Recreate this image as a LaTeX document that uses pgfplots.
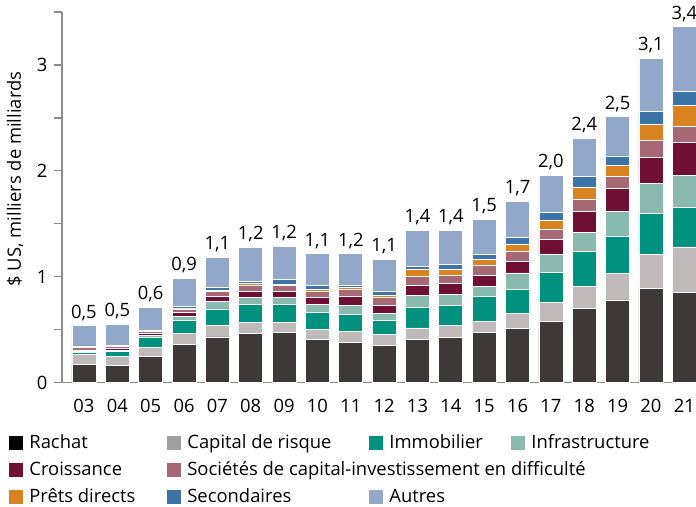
\documentclass[border=0pt]{standalone}
\usepackage{pgfplots}
\usepackage{pgfplotstable}
\pgfplotsset{compat=1.18}
\usepackage{fontspec}
\setmainfont{Open Sans}
\definecolor{cR}{HTML}{3E3938}
\definecolor{cRleg}{HTML}{000000}
\definecolor{cVC}{HTML}{BFBAB9}
\definecolor{cVCleg}{HTML}{A0A0A0}
\definecolor{cIm}{HTML}{00917F}
\definecolor{cIn}{HTML}{8AB9B0}
\definecolor{cCr}{HTML}{6E0F33}
\definecolor{cDi}{HTML}{A66874}
\definecolor{cPd}{HTML}{D98220}
\definecolor{cSe}{HTML}{3D74A8}
\definecolor{cAu}{HTML}{91A8CB}
\definecolor{axgray}{HTML}{8C8C8C}
\pgfplotstableread{
x R VC Im In Cr Di Pd Se Au tot lab
0 0.17 0.095 0.02 0.01 0.01 0.03 0.0 0.01 0.19 0.535 0,5
1 0.165 0.08 0.05 0.01 0.015 0.02 0.0 0.01 0.20 0.55 0,5
2 0.245 0.09 0.09 0.02 0.02 0.015 0.0 0.01 0.22 0.71 0,6
3 0.36 0.105 0.12 0.04 0.04 0.03 0.005 0.02 0.265 0.985 0,9
4 0.43 0.11 0.155 0.07 0.045 0.05 0.01 0.025 0.29 1.185 1,1
5 0.46 0.11 0.17 0.065 0.055 0.055 0.02 0.02 0.32 1.275 1,2
6 0.47 0.10 0.17 0.065 0.055 0.055 0.015 0.04 0.32 1.29 1,2
7 0.41 0.09 0.16 0.075 0.07 0.055 0.02 0.035 0.30 1.215 1,1
8 0.38 0.10 0.16 0.09 0.08 0.065 0.02 0.02 0.30 1.215 1,2
9 0.35 0.10 0.14 0.06 0.08 0.075 0.02 0.04 0.295 1.16 1,1
10 0.41 0.105 0.195 0.11 0.10 0.085 0.06 0.035 0.335 1.435 1,4
11 0.425 0.11 0.195 0.105 0.10 0.08 0.05 0.05 0.32 1.435 1,4
12 0.47 0.11 0.23 0.10 0.10 0.095 0.06 0.045 0.33 1.54 1,5
13 0.51 0.145 0.22 0.16 0.105 0.10 0.06 0.07 0.34 1.71 1,7
14 0.58 0.18 0.28 0.17 0.145 0.095 0.08 0.075 0.35 1.955 2,0
15 0.70 0.21 0.33 0.18 0.20 0.11 0.11 0.11 0.36 2.31 2,4
16 0.78 0.25 0.35 0.24 0.21 0.12 0.10 0.09 0.37 2.51 2,5
17 0.89 0.32 0.39 0.28 0.25 0.16 0.15 0.12 0.50 3.06 3,1
18 0.85 0.43 0.37 0.31 0.31 0.15 0.20 0.13 0.61 3.36 3,4
}\datatable
\begin{document}
\fontsize{9.2}{11}\selectfont
\begin{tikzpicture}
\begin{axis}[
  scale only axis,
  width=317pt, height=185.25pt,
  xmin=-0.659, xmax=18.35,
  ymin=0, ymax=3.5,
  ybar stacked,
  bar width=12pt,
  axis lines=left,
  axis line style={-, draw=axgray, line width=0.8pt},
  xtick=data,
  xticklabels={03,04,05,06,07,08,09,10,11,12,13,14,15,16,17,18,19,20,21},
  xtick style={draw=none},
  ytick={0,1,2,3},
  minor ytick={0.5,1.5,2.5,3.5},
  ytick pos=left,
  tick align=outside,
  major tick length=4pt,
  minor tick length=4pt,
  ytick style={draw=axgray, line width=0.7pt},
  minor tick style={draw=axgray, line width=0.7pt},
  /pgf/number format/assume math mode=true,
  tick label style={font=\fontsize{9.2}{11}\selectfont, text=black},
  xticklabel style={yshift=-1pt},
  ylabel={\$ US, milliers de milliards},
  ylabel style={at={(axis description cs:-0.0741,0.549)}, anchor=center, rotate=0},
  every axis plot/.append style={draw=white, line width=0.4pt},
  legend columns=4,
  legend style={draw=none, fill=none, inner sep=0pt, at={(-0.0836,-0.1404)}, anchor=north west,
     column sep=0pt, row sep=4.5pt,
     nodes={inner sep=0pt, text height=7pt, text depth=2pt, anchor=base west},
     font=\fontsize{9.2}{11}\selectfont},
  legend cell align=left,
  legend image code/.code={\fill[#1] (0pt,-0.5pt) rectangle (7pt,6.5pt); \path (10pt,0pt);},
]
\addplot[fill=cR, forget plot] table[x=x,y=R]{\datatable};
\addplot[fill=cVC, forget plot] table[x=x,y=VC]{\datatable};
\addplot[fill=cIm, forget plot] table[x=x,y=Im]{\datatable};
\addplot[fill=cIn, forget plot] table[x=x,y=In]{\datatable};
\addplot[fill=cCr, forget plot] table[x=x,y=Cr]{\datatable};
\addplot[fill=cDi, forget plot] table[x=x,y=Di]{\datatable};
\addplot[fill=cPd, forget plot] table[x=x,y=Pd]{\datatable};
\addplot[fill=cSe, forget plot] table[x=x,y=Se]{\datatable};
\addplot[fill=cAu, forget plot] table[x=x,y=Au]{\datatable};
\addlegendimage{fill=cRleg, draw=none}
\addlegendentry{\makebox[69pt][l]{Rachat}}
\addlegendimage{fill=cVCleg, draw=none}
\addlegendentry{\makebox[91pt][l]{Capital de risque}}
\addlegendimage{fill=cIm, draw=none}
\addlegendentry{\makebox[61pt][l]{Immobilier}}
\addlegendimage{fill=cIn, draw=none}
\addlegendentry{Infrastructure}
\addlegendimage{fill=cCr, draw=none}
\addlegendentry{\makebox[69pt][l]{Croissance}}
\addlegendimage{fill=cDi, draw=none}
\addlegendentry{\makebox[91pt][l]{Sociétés de capital-investissement en difficulté}}
\addlegendimage{empty legend}
\addlegendentry{}
\addlegendimage{empty legend}
\addlegendentry{}
\addlegendimage{fill=cPd, draw=none}
\addlegendentry{\makebox[69pt][l]{Prêts directs}}
\addlegendimage{fill=cSe, draw=none}
\addlegendentry{\makebox[91pt][l]{Secondaires}}
\addlegendimage{fill=cAu, draw=none}
\addlegendentry{\makebox[61pt][l]{Autres}}
\end{axis}
\begin{axis}[
  scale only axis,
  width=317pt, height=185.25pt,
  xmin=-0.659, xmax=18.35,
  ymin=0, ymax=3.5,
  hide axis, clip=false,
]
\addplot[draw=none, mark=none, point meta=explicit symbolic,
  nodes near coords, every node near coord/.append style={font=\fontsize{9.2}{11}\selectfont, text=black, anchor=south, inner sep=0pt, yshift=2.5pt}]
  table[x=x,y=tot,meta=lab]{\datatable};
\end{axis}
\pgfresetboundingbox
\path[use as bounding box] (-31pt,-62.25pt) rectangle (317pt,191.25pt);
\end{tikzpicture}
\end{document}
